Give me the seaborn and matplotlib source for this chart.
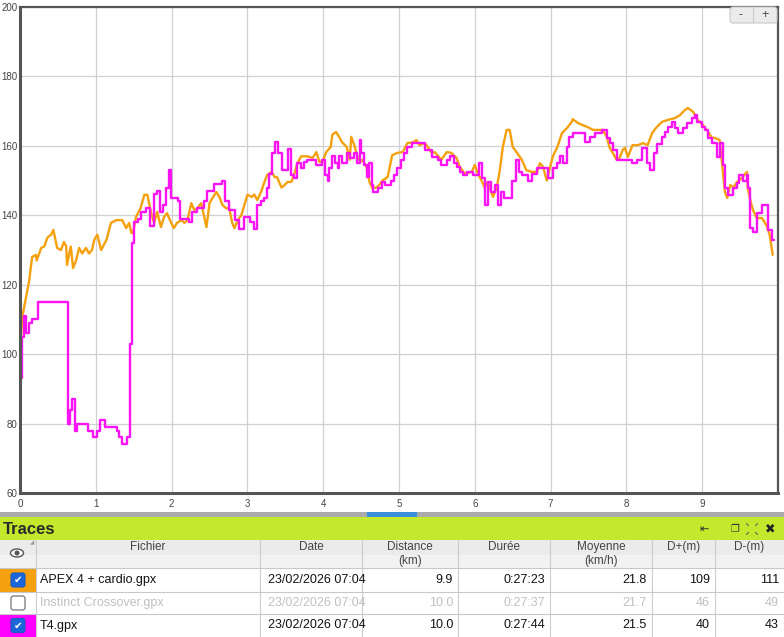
import numpy as np
import pandas as pd
import matplotlib
matplotlib.use("Agg")
import matplotlib.pyplot as plt
from matplotlib.patches import Rectangle, FancyBboxPatch, Ellipse, Circle
import seaborn as sns

# Trace T4 (cardio, en paliers) : distance (km) / FC (bpm)
t4_km = [0.00, 0.03, 0.05, 0.08, 0.12, 0.16, 0.24, 0.63, 0.66, 0.69,
         0.73, 0.75, 0.90, 0.96, 1.02, 1.06, 1.12, 1.28, 1.31, 1.35,
         1.41, 1.45, 1.48, 1.51, 1.56, 1.60, 1.66, 1.72, 1.77, 1.81,
         1.85, 1.89, 1.93, 1.96, 1.99, 2.09, 2.11, 2.23, 2.27, 2.34,
         2.43, 2.47, 2.56, 2.66, 2.71, 2.76, 2.83, 2.89, 2.96, 3.03,
         3.09, 3.13, 3.18, 3.22, 3.26, 3.29, 3.33, 3.37, 3.41, 3.45,
         3.53, 3.57, 3.58, 3.61, 3.66, 3.71, 3.75, 3.79, 3.91, 3.98,
         4.02, 4.06, 4.07, 4.11, 4.15, 4.19, 4.21, 4.25, 4.32, 4.35,
         4.40, 4.44, 4.48, 4.50, 4.54, 4.58, 4.61, 4.64, 4.66, 4.72,
         4.77, 4.81, 4.90, 4.93, 4.98, 5.03, 5.07, 5.11, 5.17, 5.34,
         5.44, 5.51, 5.56, 5.63, 5.67, 5.73, 5.76, 5.80, 5.85, 5.90,
         5.97, 6.06, 6.10, 6.13, 6.17, 6.22, 6.26, 6.31, 6.35, 6.39,
         6.49, 6.54, 6.58, 6.62, 6.70, 6.75, 6.82, 6.97, 7.03, 7.08,
         7.12, 7.17, 7.21, 7.24, 7.29, 7.45, 7.52, 7.58, 7.68, 7.74,
         7.78, 7.82, 7.87, 8.08, 8.14, 8.20, 8.27, 8.31, 8.36, 8.41,
         8.47, 8.51, 8.55, 8.60, 8.64, 8.68, 8.75, 8.80, 8.86, 8.90,
         8.93, 9.00, 9.04, 9.08, 9.13, 9.19, 9.23, 9.27, 9.30, 9.34,
         9.41, 9.46, 9.48, 9.54, 9.59, 9.60, 9.63, 9.67, 9.72, 9.79,
         9.87, 9.92, 9.95]
t4_hr = [93, 105, 111, 106, 109, 110, 115, 80, 84, 87,
         78, 80, 78, 76, 78, 81, 79, 78, 76, 74,
         76, 103, 132, 138, 139, 141, 142, 137, 146, 147,
         141, 143, 148, 153, 145, 144, 139, 138, 141, 142,
         144, 147, 149, 150, 144, 141.5, 138.6, 136, 139.5, 138,
         136, 143, 144, 145, 148, 152, 158, 161, 158, 153,
         159, 156.5, 151.6, 150.7, 155, 153.6, 155.4, 156, 154.5, 156,
         151.6, 150, 153.6, 157, 155, 153.6, 157, 155, 158, 156.5,
         158, 155, 161.7, 158, 154.5, 151, 155, 148.7, 146.7, 148,
         149.6, 148.7, 150, 151.6, 153.6, 156, 158, 159.7, 160.8, 158.8,
         156.8, 156, 154.5, 156, 157, 155, 154, 152.5, 151.6, 152.5,
         151.6, 155, 150.7, 143, 149.6, 146.7, 148.7, 143, 146.7, 145,
         150, 156, 152.5, 151.6, 150, 152, 153.6, 150.7, 153.6, 155,
         157, 155, 159.7, 162.6, 163.7, 161, 162.6, 163.7, 164.6, 162.3,
         160.8, 158.8, 156, 155, 156, 159.4, 155, 153, 158, 160.5,
         162.6, 164, 165.4, 166.9, 165, 163.7, 165, 166.6, 168, 168.9,
         166.9, 165.4, 164.6, 162.3, 160.8, 156.8, 160.8, 154.5, 148, 145.9,
         148, 149.3, 151.6, 150, 151.6, 148, 136.3, 135.2, 140.7, 143,
         135.8, 132.9, 132.9]

# Trace APEX 4 + cardio : distance (km) / FC (bpm)
apex_km = [0.00, 0.01, 0.03, 0.08, 0.12, 0.16, 0.21, 0.22, 0.28, 0.32,
           0.36, 0.41, 0.44, 0.49, 0.54, 0.58, 0.61, 0.62, 0.67, 0.70,
           0.74, 0.78, 0.82, 0.87, 0.91, 0.95, 0.98, 1.02, 1.07, 1.14,
           1.20, 1.27, 1.35, 1.40, 1.44, 1.47, 1.49, 1.53, 1.59, 1.64,
           1.68, 1.73, 1.77, 1.81, 1.86, 1.90, 1.94, 1.99, 2.03, 2.07,
           2.13, 2.17, 2.21, 2.26, 2.30, 2.34, 2.39, 2.43, 2.46, 2.50,
           2.54, 2.59, 2.63, 2.67, 2.72, 2.76, 2.80, 2.83, 2.87, 2.92,
           2.96, 3.00, 3.06, 3.09, 3.13, 3.18, 3.22, 3.26, 3.32, 3.36,
           3.39, 3.45, 3.49, 3.53, 3.58, 3.62, 3.66, 3.71, 3.79, 3.86,
           3.91, 3.95, 3.99, 4.04, 4.10, 4.12, 4.17, 4.21, 4.25, 4.31,
           4.35, 4.37, 4.41, 4.45, 4.49, 4.52, 4.57, 4.61, 4.65, 4.70,
           4.74, 4.78, 4.85, 4.91, 4.98, 5.05, 5.11, 5.18, 5.23, 5.27,
           5.34, 5.38, 5.43, 5.47, 5.56, 5.63, 5.69, 5.76, 5.80, 5.87,
           5.96, 6.00, 6.04, 6.09, 6.13, 6.17, 6.24, 6.29, 6.33, 6.37,
           6.42, 6.46, 6.50, 6.55, 6.62, 6.68, 6.75, 6.82, 6.86, 6.90,
           6.95, 6.99, 7.03, 7.09, 7.15, 7.21, 7.28, 7.29, 7.36, 7.42,
           7.49, 7.56, 7.62, 7.69, 7.74, 7.78, 7.82, 7.87, 7.91, 7.95,
           7.98, 8.02, 8.08, 8.15, 8.22, 8.28, 8.34, 8.40, 8.47, 8.55,
           8.64, 8.71, 8.77, 8.81, 8.88, 8.94, 9.01, 9.08, 9.13, 9.17,
           9.23, 9.26, 9.30, 9.33, 9.37, 9.41, 9.46, 9.52, 9.59, 9.60,
           9.64, 9.67, 9.72, 9.79, 9.85, 9.89, 9.93]
apex_hr = [94.6, 104, 110.7, 116.5, 121, 128, 128.6, 127, 130.6, 131,
           133.5, 134.4, 135.8, 130.6, 130, 132.3, 131, 125.7, 131, 124.8,
           127, 130.6, 129, 130.6, 129, 130, 132.9, 134.4, 130, 132.9,
           137.8, 138.6, 138.6, 136.3, 137.8, 134.9, 134.9, 139.5, 142, 145.9,
           145.9, 140.6, 137.8, 141, 136.6, 139.5, 140.6, 138, 136.3, 137.8,
           138.6, 137.8, 138.6, 143.5, 141.5, 142, 143.5, 139.5, 136.6, 143.5,
           145, 146.7, 145.3, 143, 142, 142, 137.8, 136.3, 138.6, 140,
           143, 145.9, 145.3, 146, 144.4, 146.7, 149.3, 151.6, 152.5, 151,
           151, 148, 148.7, 149.6, 149.6, 152, 155, 157, 157, 156.5,
           158.2, 155.4, 155.4, 158.2, 159.7, 163.2, 164, 162.6, 161, 159.7,
           156, 162.6, 160.2, 157, 155.4, 156, 154, 149.6, 147.8, 148,
           148.7, 150, 151, 157.3, 158, 158.2, 160.8, 161, 161.7, 160.2,
           160.8, 159.7, 158, 158.2, 156, 158.2, 158, 156.5, 154, 152,
           152.5, 154.5, 152, 150, 148, 149.6, 145.3, 148, 153, 159.7,
           164.6, 164.6, 159.7, 158.2, 156, 153, 152.5, 152.5, 155, 154,
           150, 153.6, 157, 159.7, 163.7, 165, 166.9, 167.7, 166.6, 166,
           165.4, 164.6, 164.6, 164.6, 162.6, 159.4, 158, 156, 156.5, 158.8,
           159.4, 156.8, 160.2, 160.2, 160.8, 160.2, 163.7, 165.4, 166.9, 167.5,
           168, 168.9, 170.3, 170.9, 169.8, 167.5, 166, 164, 162.3, 162.3,
           161.7, 155.4, 146.7, 145, 148.7, 148, 149.6, 150.7, 152.5, 148,
           143.8, 141.5, 139.2, 139.2, 137, 134.4, 128.6]

y_ticks = [60, 80, 100, 120, 140, 160, 180, 200]
x_ticks = [0, 1, 2, 3, 4, 5, 6, 7, 8, 9]

# Tableau des traces
files = ["APEX 4 + cardio.gpx", "Instinct Crossover.gpx", "T4.gpx"]
dates = ["23/02/2026 07:04", "23/02/2026 07:04", "23/02/2026 07:04"]
distances = ["9.9", "10.0", "10.0"]
durations = ["0:27:23", "0:27:37", "0:27:44"]
speeds = ["21.8", "21.7", "21.5"]
d_plus = ["109", "46", "40"]
d_minus = ["111", "49", "43"]
visible = [True, False, True]
row_colors = ["#f5a00f", "#ffffff", "#ff00ff"]

ORANGE = "#f5a00f"
MAGENTA = "#fa14f5"

sns.set_style("white")
plt.rcParams["font.family"] = ["Liberation Sans", "DejaVu Sans"]

W, H = 784, 637
fig = plt.figure(figsize=(W / 100, H / 100), dpi=100, facecolor="white")

# ---- graphique FC / distance
ax = fig.add_axes([20 / W, (H - 493) / H, 758 / W, 486 / H])
apex_df = pd.DataFrame({"km": apex_km, "hr": apex_hr})
t4_df = pd.DataFrame({"km": t4_km, "hr": t4_hr})
sns.lineplot(data=apex_df, x="km", y="hr", ax=ax, color=ORANGE, lw=1.7,
             estimator=None, sort=False)
sns.lineplot(data=t4_df, x="km", y="hr", ax=ax, color=MAGENTA, lw=1.7,
             estimator=None, sort=False, drawstyle="steps-post")
ax.set_xlim(0, 10)
ax.set_ylim(60, 200)
ax.set_xticks(x_ticks)
ax.set_yticks(y_ticks)
ax.set_xlabel("")
ax.set_ylabel("")
ax.grid(True, color="#d0d0d0", lw=0.9)
ax.tick_params(length=0, labelsize=7, labelcolor="#444444")
ax.tick_params(axis="x", pad=4)
ax.tick_params(axis="y", pad=2)
for s in ax.spines.values():
    s.set_visible(True)
    s.set_color("#555555")
    s.set_linewidth(1.6)
ax.spines["left"].set_linewidth(2.2)
ax.spines["bottom"].set_linewidth(2.2)

# ---- calque en pixels pour l'interface
ov = fig.add_axes([0, 0, 1, 1], facecolor="none")
ov.set_xlim(0, W)
ov.set_ylim(H, 0)
ov.axis("off")

# boutons de zoom
ov.add_patch(FancyBboxPatch((730, 7), 47, 16, boxstyle="round,pad=0,rounding_size=3",
                            fc="#ebebeb", ec="#c8c8c8", lw=0.8))
ov.plot([753, 753], [8, 22], color="#c8c8c8", lw=0.8)
ov.text(741, 15, "-", ha="center", va="center", fontsize=9, color="#444444")
ov.text(765, 15, "+", ha="center", va="center", fontsize=9, color="#444444")

# barre de défilement
ov.add_patch(Rectangle((0, 512), W, 5, fc="#ababab", ec="none"))
ov.add_patch(Rectangle((367, 512), 50, 5, fc="#3c8fdd", ec="none"))

# bandeau "Traces"
ov.add_patch(Rectangle((0, 517), W, 23, fc="#c4e82c", ec="none"))
ov.text(3, 529, "Traces", ha="left", va="center", fontsize=12,
        fontweight="bold", color="#2a2a2a")
ov.text(704, 529, "⇤", ha="center", va="center", fontsize=8, color="#333333")
ov.text(735, 529, "❐", ha="center", va="center", fontsize=7, color="#333333")
# icône plein écran (quatre coins)
for sx in (-1, 1):
    for sy in (-1, 1):
        cx, cy = 752 + 3.5 * sx, 529 + 3.5 * sy
        ov.plot([cx, cx + 2 * sx], [cy, cy + 2 * sy], color="#666666", lw=0.8)
ov.text(770, 529, "✖", ha="center", va="center", fontsize=9, color="#222222")

# en-tête du tableau
ov.add_patch(Rectangle((0, 540), W, 15, fc="#ebebeb", ec="none"))
ov.add_patch(Rectangle((0, 555), W, 13, fc="#f2f2f2", ec="none"))
col_edges = [0, 36, 260, 362, 458, 550, 652, 715, W]
headers = ["", "Fichier", "Date", "Distance\n(km)", "Durée", "Moyenne\n(km/h)", "D+(m)", "D-(m)"]
for i, h in enumerate(headers):
    if h:
        cx = (col_edges[i] + col_edges[i + 1]) / 2
        ov.text(cx, 541, h, ha="center", va="top", fontsize=8.5,
                color="#444444", linespacing=1.25)
for x in col_edges[1:-1]:
    ov.plot([x, x], [540, H], color="#cccccc", lw=0.8)
ov.add_patch(Ellipse((17, 553), 13, 8, fc="white", ec="#555555", lw=1))
ov.add_patch(Circle((17, 553), 2.5, fc="#555555", ec="none"))
ov.text(32, 543, "◢", ha="center", va="center", fontsize=4, color="#999999")

# lignes du tableau
row_tops = [568, 592, 614]
row_bots = [592, 614, H]
for r in range(3):
    top, bot = row_tops[r], row_bots[r]
    cy = (top + bot) / 2
    ov.plot([0, W], [top, top], color="#c8c8c8", lw=0.8)
    ov.add_patch(Rectangle((0, top), 36, bot - top, fc=row_colors[r], ec="none"))
    tc = "#111111" if visible[r] else "#c0c0c0"
    if visible[r]:
        ov.add_patch(FancyBboxPatch((11, cy - 7), 14, 14, boxstyle="round,pad=0,rounding_size=2.5",
                                    fc="#1a66d9", ec="#1a5bc0", lw=0.8))
        ov.text(18, cy, "✔", ha="center", va="center", fontsize=7.5, color="white")
    else:
        ov.add_patch(FancyBboxPatch((11, cy - 7), 14, 14, boxstyle="round,pad=0,rounding_size=2.5",
                                    fc="white", ec="#777777", lw=0.9))
    ov.text(40, cy, files[r], ha="left", va="center", fontsize=9, color=tc)
    ov.text(268, cy, dates[r], ha="left", va="center", fontsize=9, color=tc)
    vals = [distances[r], durations[r], speeds[r], d_plus[r], d_minus[r]]
    for j, v in enumerate(vals):
        ov.text(col_edges[j + 4] - 5, cy, v, ha="right", va="center", fontsize=9, color=tc)

fig.savefig("out.png", dpi=100, facecolor="white")
